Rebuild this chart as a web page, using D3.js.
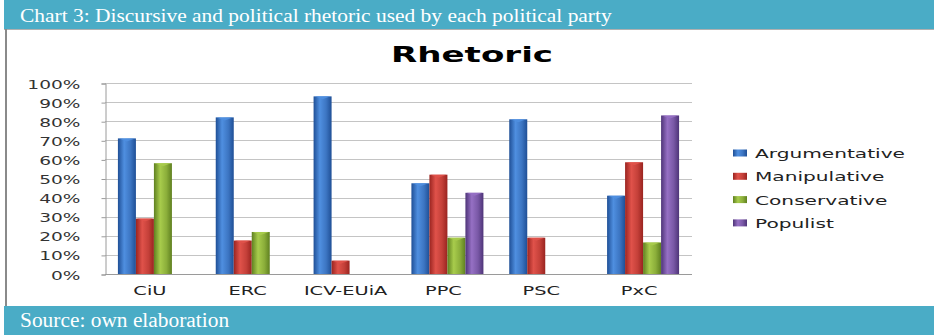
<!DOCTYPE html>
<html lang="en">
<head>
<meta charset="UTF-8">
<title>Rhetoric</title>
<script src="https://d3js.org/d3.v7.min.js"></script>
<style>
    body { margin: 0; background: #fff; }
    svg { display: block; }
</style>
</head>
<body>
<svg id="chart" width="934" height="335"></svg>
<script>
    // values (percent)
    const categories = ["CiU", "ERC", "ICV-EUiA", "PPC", "PSC", "PxC"];
    const seriesNames = ["Argumentative", "Manipulative", "Conservative", "Populist"];
    const argumentative = [71, 82, 93, 47.5, 81, 41];
    const manipulative = [29, 17.5, 7, 52, 19, 58.5];
    const conservative = [58, 22, null, 19, null, 16.5];
    const populist = [null, null, null, 42.5, null, 83];
    const yTicks = [0, 10, 20, 30, 40, 50, 60, 70, 80, 90, 100];

    const seriesValues = [argumentative, manipulative, conservative, populist];
    // [dark edge, highlight]
    const palette = [
        ["#1f4f96", "#4f8fe0"],
        ["#9a2420", "#e0524a"],
        ["#5f8020", "#a8cc4c"],
        ["#4e3478", "#9670c4"]
    ];

    const teal = "#4aacc6";
    const stretch = 1.55; // text in the picture is widened horizontally

    const svg = d3.select("#chart");
    const defs = svg.append("defs");

    palette.forEach((c, i) => {
        const g = defs.append("linearGradient")
            .attr("id", "grad" + i)
            .attr("x1", "0").attr("x2", "1").attr("y1", "0").attr("y2", "0");
        g.append("stop").attr("offset", "0").attr("stop-color", c[0]);
        g.append("stop").attr("offset", "0.35").attr("stop-color", c[1]);
        g.append("stop").attr("offset", "0.7").attr("stop-color", d3.interpolateRgb(c[1], c[0])(0.4));
        g.append("stop").attr("offset", "1").attr("stop-color", c[0]);
    });

    function wideText(sel, x, y, str, sx = stretch) {
        return sel.append("text")
            .attr("transform", `translate(${x},${y}) scale(${sx},1)`)
            .text(str);
    }

    // frame: header, footer, left border
    svg.append("rect").attr("x", 4).attr("y", 0).attr("width", 930).attr("height", 29).attr("fill", teal);
    svg.append("line").attr("x1", 4).attr("x2", 934).attr("y1", 29.5).attr("y2", 29.5)
        .attr("stroke", "#b0b0b0").attr("stroke-width", 1);
    svg.append("line").attr("x1", 6).attr("x2", 6).attr("y1", 29).attr("y2", 306)
        .attr("stroke", "#8a8a8a").attr("stroke-width", 2);
    svg.append("rect").attr("x", 4).attr("y", 306).attr("width", 930).attr("height", 29).attr("fill", teal);

    wideText(svg, 20, 22, "Chart 3: Discursive and political rhetoric used by each political party", 1.1)
        .attr("fill", "#fff")
        .style("font", "19.5px 'Liberation Serif', serif");

    wideText(svg, 20, 327, "Source: own elaboration", 1.07)
        .attr("fill", "#fff")
        .style("font", "20px 'Liberation Serif', serif");

    // chart title
    wideText(svg, 472, 62, "Rhetoric")
        .attr("text-anchor", "middle")
        .style("font", "bold 22px 'DejaVu Sans', sans-serif")
        .attr("fill", "#000");

    const plot = { left: 105, right: 692, top: 83, bottom: 274 };

    const x = d3.scaleBand()
        .domain(categories)
        .range([plot.left, plot.right])
        .paddingInner(0.264)
        .paddingOuter(0.132);

    const xs = d3.scaleBand()
        .domain(seriesNames)
        .range([0, x.bandwidth()]);

    const y = d3.scaleLinear()
        .domain([0, 100])
        .range([plot.bottom, plot.top]);

    // gridlines
    svg.append("g")
        .selectAll("line")
        .data(yTicks.slice(1))
        .join("line")
        .attr("x1", plot.left).attr("x2", plot.right)
        .attr("y1", d => Math.round(y(d)) + 0.5).attr("y2", d => Math.round(y(d)) + 0.5)
        .attr("stroke", "#c4c4c4");

    // y axis
    const yAxis = svg.append("g")
        .attr("transform", `translate(${plot.left + 0.5},0.5)`)
        .call(d3.axisLeft(y).tickValues(yTicks).tickSize(4).tickPadding(0).tickFormat(d => d + "%"));
    yAxis.select(".domain").attr("stroke", "#9a9a9a");
    yAxis.selectAll(".tick line").attr("stroke", "#9a9a9a");
    yAxis.selectAll(".tick text").remove();
    yAxis.selectAll(".tick").each(function(d) {
        wideText(d3.select(this), -25, 4.5, d + "%")
            .attr("text-anchor", "end")
            .attr("fill", "#333")
            .style("font", "12px 'DejaVu Sans', sans-serif");
    });

    // x axis
    svg.append("line")
        .attr("x1", plot.left).attr("x2", plot.right)
        .attr("y1", plot.bottom + 0.5).attr("y2", plot.bottom + 0.5)
        .attr("stroke", "#9a9a9a");

    const xLabels = svg.append("g");
    categories.forEach(c => {
        wideText(xLabels, x(c) + x.bandwidth() / 2 - 4, 295, c)
            .attr("text-anchor", "middle")
            .attr("fill", "#222")
            .style("font", "12.5px 'DejaVu Sans', sans-serif");
    });

    // bars
    const barData = [];
    seriesValues.forEach((vals, si) => {
        vals.forEach((v, ci) => {
            if (v != null) barData.push({ s: si, c: categories[ci], v: v });
        });
    });

    const bars = svg.append("g")
        .selectAll("g")
        .data(barData)
        .join("g");

    bars.append("rect")
        .attr("x", d => x(d.c) + xs(seriesNames[d.s]))
        .attr("y", d => y(d.v))
        .attr("width", xs.bandwidth())
        .attr("height", d => y(0) - y(d.v))
        .attr("fill", d => `url(#grad${d.s})`);

    // little highlighted cap at the top of each bar
    bars.append("path")
        .attr("d", d => {
            const x0 = x(d.c) + xs(seriesNames[d.s]);
            const w = xs.bandwidth();
            const t = y(d.v);
            return `M${x0 + 1},${t} L${x0 + w / 2},${t + 3} L${x0 + w - 1},${t} Z`;
        })
        .attr("fill", d => palette[d.s][1])
        .attr("opacity", 0.9);

    // legend
    const legend = svg.append("g");
    seriesNames.forEach((name, i) => {
        const ly = 153 + i * 23.3;
        legend.append("rect")
            .attr("x", 733).attr("y", ly - 3.5)
            .attr("width", 14).attr("height", 7)
            .attr("fill", `url(#grad${i})`);
        wideText(legend, 755, ly + 5, name)
            .attr("fill", "#222")
            .style("font", "13px 'DejaVu Sans', sans-serif");
    });
</script>
</body>
</html>
